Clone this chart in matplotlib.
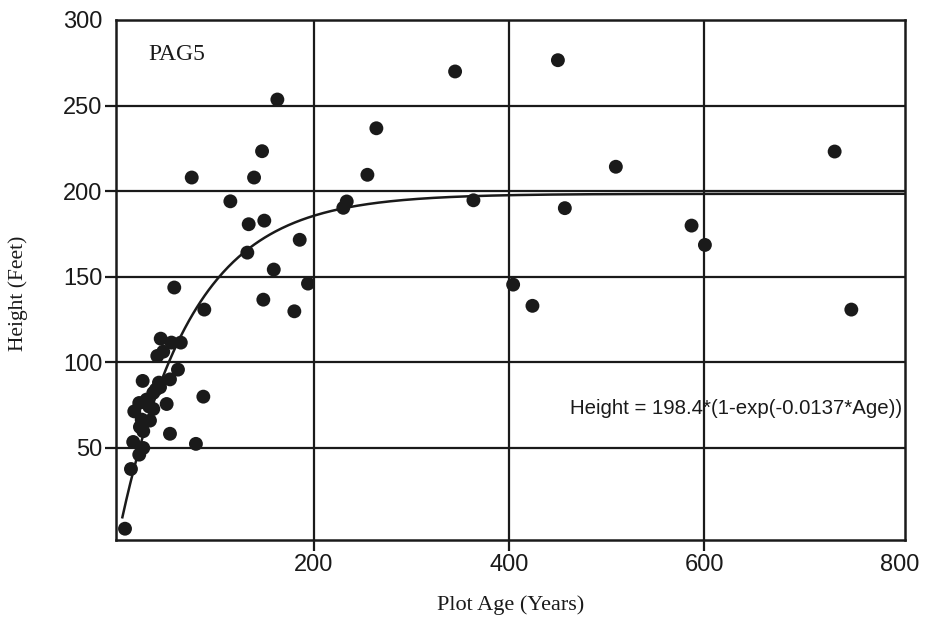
import numpy as np
import matplotlib
matplotlib.use("Agg")
import matplotlib.pyplot as plt

# Data
age = [6.2, 12.3, 14.6, 15.7, 20.8, 20.8, 21.5, 23.3, 24.3, 24.9, 24.9, 28.4,
       31.8, 35.2, 35.2, 37.9, 39.3, 42.1, 42.8, 45.4, 48.9, 52.3, 52.3, 53.8,
       56.7, 60.5, 63.4, 74.6, 78.9, 86.5, 87.5, 114.2, 131.6, 133.0, 138.5,
       146.7, 148.0, 149.0, 158.7, 162.4, 179.8, 185.3, 193.8, 230.0, 233.5,
       254.7, 263.9, 344.6, 363.4, 404.1, 423.9, 450.0, 457.1, 509.4, 587.0,
       600.7, 733.7, 750.8, 31.0, 41.0]
height = [2.6, 37.5, 53.3, 71.2, 76.1, 45.9, 62.1, 66.4, 89.0, 59.6, 49.8, 78.1,
          65.8, 82.0, 72.6, 84.0, 103.6, 85.3, 113.7, 106.1, 75.5, 89.9, 58.1, 111.4,
          143.6, 95.6, 111.4, 207.9, 52.2, 79.8, 130.7, 194.0, 164.0, 180.6, 207.9,
          223.3, 136.5, 182.7, 154.1, 253.5, 129.7, 171.5, 145.9, 190.2, 193.9,
          209.5, 236.7, 269.9, 194.6, 145.3, 132.9, 276.5, 190.0, 214.2, 179.8,
          168.5, 223.1, 130.7, 74.0, 88.0]

a_coef = 198.4
k_coef = 0.0137
x_ticks = [200, 400, 600, 800]
y_ticks = [50, 100, 150, 200, 250, 300]

fig = plt.figure(figsize=(9.38, 6.17), dpi=100)
ax = fig.add_axes([0.1237, 0.1248, 0.965 - 0.1237, 0.9676 - 0.1248])

ax.set_xlim(-3, 806)
ax.set_ylim(-4, 300)

# grid lines
for xv in [200, 400, 600]:
    ax.axvline(xv, color="#1a1a1a", lw=1.6, zorder=1)
for yv in [50, 100, 150, 200, 250]:
    ax.axhline(yv, color="#1a1a1a", lw=1.6, zorder=1)

ax.scatter(age, height, s=100, color="#1a1a1a", edgecolors="none", zorder=3)

xc = np.linspace(3.5, 806, 600)
ax.plot(xc, a_coef * (1 - np.exp(-k_coef * xc)), color="#1a1a1a", lw=1.8, zorder=2)

for s in ax.spines.values():
    s.set_linewidth(1.8)
    s.set_color("#1a1a1a")

ax.set_xticks(x_ticks)
ax.set_yticks(y_ticks)
ax.tick_params(axis="both", direction="out", length=8, width=1.6, color="#1a1a1a",
               labelsize=17, pad=2)
ax.yaxis.get_major_ticks()[-1].tick1line.set_visible(False)
ax.xaxis.get_major_ticks()[-1].tick1line.set_visible(False)
for lab in ax.get_xticklabels() + ax.get_yticklabels():
    lab.set_family("Liberation Sans")
    lab.set_color("#1a1a1a")

ax.set_xlabel("Plot Age (Years)", family="Liberation Serif", fontsize=16,
              color="#1a1a1a", labelpad=14)
ax.set_ylabel("Height (Feet)", family="Liberation Serif", fontsize=15.5,
              color="#1a1a1a")
ax.yaxis.set_label_coords(-0.111, 0.475)

ax.text(29.7, 280, "PAG5", family="Liberation Serif", fontsize=17,
        color="#1a1a1a", va="center", ha="left")
ax.text(462.6, 72.8, "Height = 198.4*(1-exp(-0.0137*Age))",
        family="Liberation Sans", fontsize=14.7, color="#1a1a1a",
        va="center", ha="left")

fig.savefig("out.png", dpi=100)
